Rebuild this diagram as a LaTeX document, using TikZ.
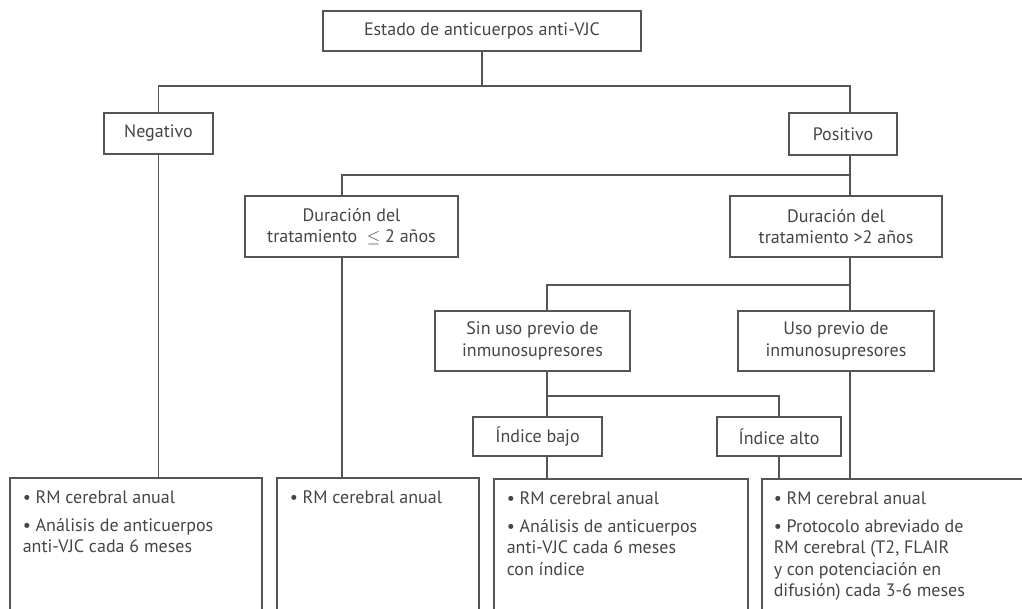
\documentclass[tikz,border=0pt]{standalone}
\usepackage{fontspec}
\setmainfont{PT Sans}
\definecolor{linegray}{HTML}{555555}
\definecolor{textgray}{HTML}{454545}
% one bullet item with a hanging second line
\newcommand{\bul}[1]{\par\hangindent=5pt\hangafter=1\noindent\textbullet\ #1}
\newcommand{\restext}[2]{\parbox[t][150pt][t]{#1}{\raggedright\setlength{\parskip}{6pt}#2}}
\tikzset{
  box/.style={draw=linegray, line width=1.5pt, text=textgray, align=center, inner sep=0pt},
  res/.style={draw=linegray, line width=1.5pt, text=textgray, anchor=north west, inner xsep=13pt, inner ysep=13pt},
  link/.style={draw=linegray, line width=1.5pt}
}
\begin{document}
\begin{tikzpicture}[x=1pt, y=-1pt, font=\fontsize{18}{21.5}\selectfont]
    \useasboundingbox (0,0) rectangle (1022,608);
    \clip (0,0) rectangle (1022,608);
    % columns of the vertical connectors
    \coordinate (ColB)  at (342,0);
    \coordinate (ColC)  at (547,0);
    \coordinate (Spine) at (850,0);
    % branch points
    \coordinate (BranchA) at (482,86);
    \coordinate (BranchB) at (850,175);
    \coordinate (BranchC) at (850,285);
    \coordinate (BranchD) at (547,396);

    \node[box, minimum width=318pt, minimum height=40pt] (Estado)   at (482,31)    {Estado de anticuerpos anti-VJC};
    \node[box, minimum width=109pt, minimum height=41pt] (Negativo) at (158.5,133.5) {Negativo};
    \node[box, minimum width=108pt, minimum height=42pt] (Positivo) at (843,134)   {Positivo};
    \node[box, minimum width=213pt, minimum height=61pt] (DurCorta) at (351.5,226.5) {Duración del\\tratamiento \ $\leq$ 2 años};
    \node[box, minimum width=212pt, minimum height=61pt] (DurLarga) at (836,226.5) {Duración del\\tratamiento >2 años};
    \node[box, minimum width=195pt, minimum height=60pt] (SinUso)   at (532.5,341) {Sin uso previo de\\inmunosupresores};
    \node[box, minimum width=196pt, minimum height=60pt] (ConUso)   at (836,341)   {Uso previo de\\inmunosupresores};
    \node[box, minimum width=129pt, minimum height=39pt] (IndBajo)  at (537.5,436.5) {Índice bajo};
    \node[box, minimum width=124pt, minimum height=39pt] (IndAlto)  at (779,436.5) {Índice alto};

    % result boxes, cut off at the bottom
    \node[res] (ResNeg) at (9,477) {\restext{226pt}{%
      \bul{RM cerebral anual}
      \bul{Análisis de anticuerpos\\anti-VJC cada 6 meses}}};
    \node[res] (ResCorta) at (276,477) {\restext{176pt}{%
      \bul{RM cerebral anual}}};
    \node[res] (ResBajo) at (493,478) {\restext{228pt}{%
      \bul{RM cerebral anual}
      \bul{Análisis de anticuerpos\\anti-VJC cada 6 meses\\con índice}}};
    \node[res, inner xsep=12pt] (ResAlto) at (761,478) {\restext{256pt}{%
      \bul{RM cerebral anual}
      \bul{Protocolo abreviado de\\RM cerebral (T2, FLAIR\\y con potenciación en\\difusión) cada 3-6 meses}}};

    % connectors
    \draw[link] (Estado.south) -- (BranchA);
    \draw[link] (Negativo.north) |- (BranchA) -| (Positivo.north -| Spine);
    \draw[link] (Negativo.south) -- (Negativo.south |- ResNeg.north);
    \draw[link] (Positivo.south -| Spine) -- (DurLarga.north -| Spine);
    \draw[link] (BranchB) -| (DurCorta.north -| ColB);
    \draw[link] (DurCorta.south -| ColB) -- (ResCorta.north -| ColB);
    \draw[link] (DurLarga.south -| Spine) -- (ConUso.north -| Spine);
    \draw[link] (BranchC) -| (SinUso.north -| ColC);
    \draw[link] (SinUso.south -| ColC) -- (IndBajo.north -| ColC);
    \draw[link] (BranchD) -| (IndAlto.north);
    \draw[link] (IndBajo.south -| ColC) -- (ResBajo.north -| ColC);
    \draw[link] (IndAlto.south) -- (IndAlto.south |- ResAlto.north);
    \draw[link] (ConUso.south -| Spine) -- (ResAlto.north -| Spine);
\end{tikzpicture}
\end{document}
